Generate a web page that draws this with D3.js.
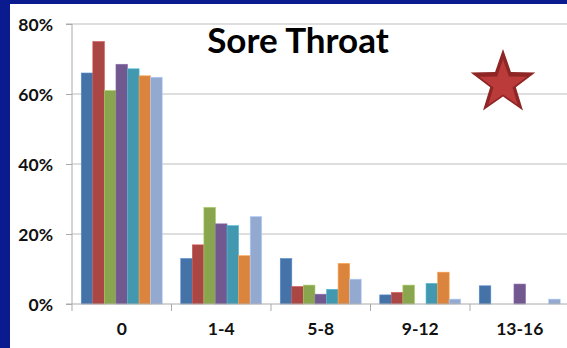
<!DOCTYPE html>
<html><head><meta charset="utf-8">
<script src="https://cdn.jsdelivr.net/npm/d3@7"></script>
<style>html,body{margin:0;padding:0;background:#fff;}svg{display:block;}</style>
</head><body>
<script>
const categories = ["0", "1-4", "5-8", "9-12", "13-16"];
const seriesNames = ["A", "B", "C", "D", "E", "F", "G"];
const sBlue   = [66,   13,   13,   2.6, 5.2];
const sRed    = [75,   16.9, 5,    3.3, 0];
const sGreen  = [61,   27.6, 5.4,  5.4, 0];
const sPurple = [68.5, 22.9, 2.8,  0,   5.7];
const sTeal   = [67.2, 22.4, 4.2,  5.9, 0];
const sOrange = [65.2, 13.8, 11.6, 9.1, 0];
const sLight  = [64.8, 25,   7.1,  1.4, 1.4];
const yTicks = [0, 20, 40, 60, 80];
const title = "Sore Throat";

const series = [sBlue, sRed, sGreen, sPurple, sTeal, sOrange, sLight];
const colors = ["#4572A7", "#AA4643", "#89A54E", "#71588F", "#4198AF", "#DB843D", "#93A9CF"];

const W = 567, H = 348;
const svg = d3.select("body").append("svg").attr("width", W).attr("height", H);

// blue frame
svg.append("rect").attr("x", 0).attr("y", 0).attr("width", W).attr("height", H).attr("fill", "#0a1b8f");
svg.append("rect").attr("x", 10).attr("y", 4).attr("width", W - 10).attr("height", H - 4).attr("fill", "#fff");

const x0 = 72, x1 = 569.5, yB = 304;
const x = d3.scaleBand().domain(categories).range([x0, x1]).padding(0);
const xi = d3.scaleBand().domain(seriesNames).range([9.25, x.bandwidth() - 9.25]).padding(0);
const y = d3.scaleLinear().domain([0, 80]).range([yB, 24]);

// gridlines
svg.append("g").selectAll("line").data(yTicks.filter(d => d > 0)).join("line")
  .attr("x1", x0).attr("x2", W).attr("y1", d => y(d)).attr("y2", d => y(d))
  .attr("stroke", "#bdbdbd").attr("stroke-width", 1.2);

// bars
series.forEach((vals, si) => {
  svg.append("g").selectAll("rect").data(vals.map((v, i) => ({c: categories[i], v})).filter(d => d.v > 0)).join("rect")
    .attr("x", d => x(d.c) + xi(seriesNames[si]))
    .attr("width", xi.bandwidth())
    .attr("y", d => y(d.v))
    .attr("height", d => yB - y(d.v))
    .attr("fill", colors[si])
    .attr("stroke", d3.color(colors[si]).brighter(0.6))
    .attr("stroke-width", 0.6);
});

// y axis
const yAxis = d3.axisLeft(y).tickValues(yTicks).tickSize(6).tickFormat(d => d + "%");
const gy = svg.append("g").attr("transform", `translate(${x0},0)`).call(yAxis);
gy.select(".domain").attr("stroke", "#aaa").attr("d", `M-6,${yB}H0V24H-6`);
gy.selectAll(".tick line").attr("stroke", "#aaa");
gy.selectAll(".tick text").attr("x", -19).attr("dy", "0.36em")
  .attr("font-family", "Lato, 'Open Sans', sans-serif").attr("font-weight", "bold")
  .attr("font-size", 17.5).attr("fill", "#111");

// x axis
const gx = svg.append("g").attr("transform", `translate(0,${yB})`);
gx.append("line").attr("x1", x0).attr("x2", W).attr("y1", 0).attr("y2", 0).attr("stroke", "#aaa");
gx.selectAll("line.t").data(categories.concat(["end"])).join("line").attr("class", "t")
  .attr("x1", (d, i) => x0 + i * x.bandwidth()).attr("x2", (d, i) => x0 + i * x.bandwidth())
  .attr("y1", 0).attr("y2", 7).attr("stroke", "#aaa");
gx.selectAll("text").data(categories).join("text")
  .attr("x", d => x(d) + x.bandwidth() / 2).attr("y", 31)
  .attr("text-anchor", "middle")
  .attr("font-family", "Lato, 'Open Sans', sans-serif").attr("font-weight", "bold")
  .attr("font-size", 17.5).attr("fill", "#111").text(d => d);

// title
svg.append("text").attr("x", 298).attr("y", 53).attr("text-anchor", "middle")
  .attr("font-family", "Lato, 'Open Sans', sans-serif").attr("font-weight", "bold")
  .attr("font-size", 35).attr("fill", "#000").text(title);

// star
function starPath(cx, cy, R, r) {
  const pts = [];
  for (let k = 0; k < 10; k++) {
    const a = -Math.PI / 2 + k * Math.PI / 5;
    const rad = k % 2 === 0 ? R : r;
    pts.push([cx + rad * Math.cos(a), cy + rad * Math.sin(a)]);
  }
  return d3.line()(pts) + "Z";
}
svg.append("path").attr("d", starPath(503, 83, 34, 13.5)).attr("fill", "#8e2626");
svg.append("path").attr("d", starPath(503, 84.5, 25, 10)).attr("fill", "#bb3a3a");
</script>
</body></html>
